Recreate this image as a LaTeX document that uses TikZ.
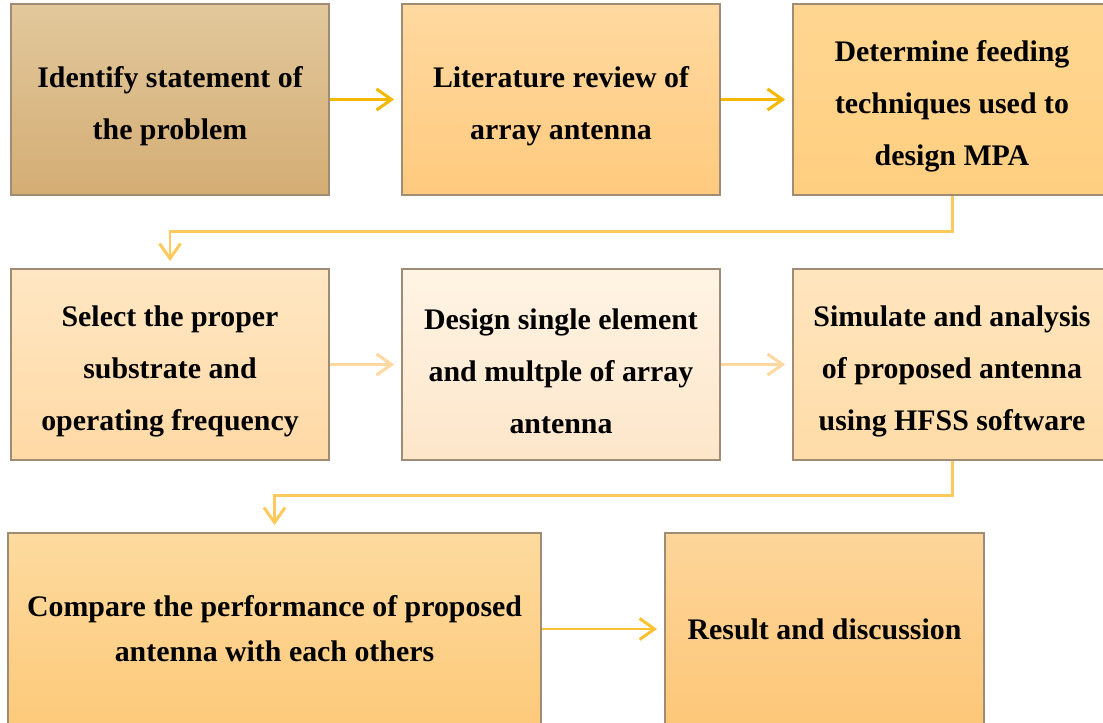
\documentclass[tikz,border=0pt]{standalone}
\usepackage{fontspec}
\setmainfont{Liberation Serif}
\usetikzlibrary{arrows.meta}
\definecolor{edgegray}{HTML}{A08C74}
\definecolor{goldA}{HTML}{F5B800}
\definecolor{goldB}{HTML}{FFC95E}
\definecolor{goldC}{HTML}{FFD8A0}
\definecolor{goldD}{HTML}{FFC133}
\newcommand\lift{\rule{0pt}{19.5pt}}
\tikzset{
  stage/.style={draw=edgegray,line width=1.1pt,minimum width=6.36cm,minimum height=3.82cm,inner sep=0pt,align=center,font=\fontsize{17}{29.6}\selectfont\bfseries},
  flow/.style={line width=1.7pt,-{Straight Barb[length=8.5pt,width=12pt]},shorten >=0.14cm}
}
\begin{document}
\begin{tikzpicture}[x=0.02cm,y=-0.02cm]
	\useasboundingbox (0,0) rectangle (1103,723);
	\node[stage,top color={rgb,255:red,226;green,200;blue,156},bottom color={rgb,255:red,212;green,173;blue,116}] (identify) at (170,99.5) {\lift Identify statement of\\the problem};
	\node[stage,top color={rgb,255:red,255;green,217;blue,160},bottom color={rgb,255:red,255;green,202;blue,126}] (review) at (561,99.5) {\lift Literature review of\\array antenna};
	\node[stage,top color={rgb,255:red,255;green,214;blue,145},bottom color={rgb,255:red,255;green,207;blue,128}] (feeding) at (952,99.5) {\lift Determine feeding\\techniques used to\\design MPA};
	\node[stage,top color={rgb,255:red,255;green,231;blue,195},bottom color={rgb,255:red,255;green,217;blue,165}] (substrate) at (170,364.5) {\lift Select the proper\\substrate and\\operating frequency};
	\node[stage,top color={rgb,255:red,255;green,244;blue,228},bottom color={rgb,255:red,253;green,230;blue,202}] (single) at (561,364.5) {\lift Design single element\\and multple of array\\antenna};
	\node[stage,top color={rgb,255:red,255;green,229;blue,190},bottom color={rgb,255:red,255;green,220;blue,168}] (simulate) at (952,364.5) {\lift Simulate and analysis\\of proposed antenna\\using HFSS software};
	\node[stage,minimum width=10.66cm,minimum height=3.84cm,font=\fontsize{17}{25.6}\selectfont\bfseries,top color={rgb,255:red,253;green,218;blue,159},bottom color={rgb,255:red,253;green,202;blue,122}] (compare) at (274.5,629) {Compare the performance of proposed\\antenna with each others};
	\node[stage,minimum width=6.38cm,minimum height=3.84cm,top color={rgb,255:red,253;green,213;blue,154},bottom color={rgb,255:red,253;green,199;blue,120}] (result) at (824.5,629) {Result and discussion};
	\draw[flow,goldA] (identify.east) -- (review.west);
	\draw[flow,goldA] (review.east) -- (feeding.west);
	\draw[flow,goldB] (feeding.south) -- ++(0,36) -| (substrate.north);
	\draw[flow,goldC] (substrate.east) -- (single.west);
	\draw[flow,goldC] (single.east) -- (simulate.west);
	\draw[flow,goldB] (simulate.south) -- ++(0,35) -| (compare.north);
	\draw[flow,goldD] (compare.east) -- (result.west);
\end{tikzpicture}
\end{document}
